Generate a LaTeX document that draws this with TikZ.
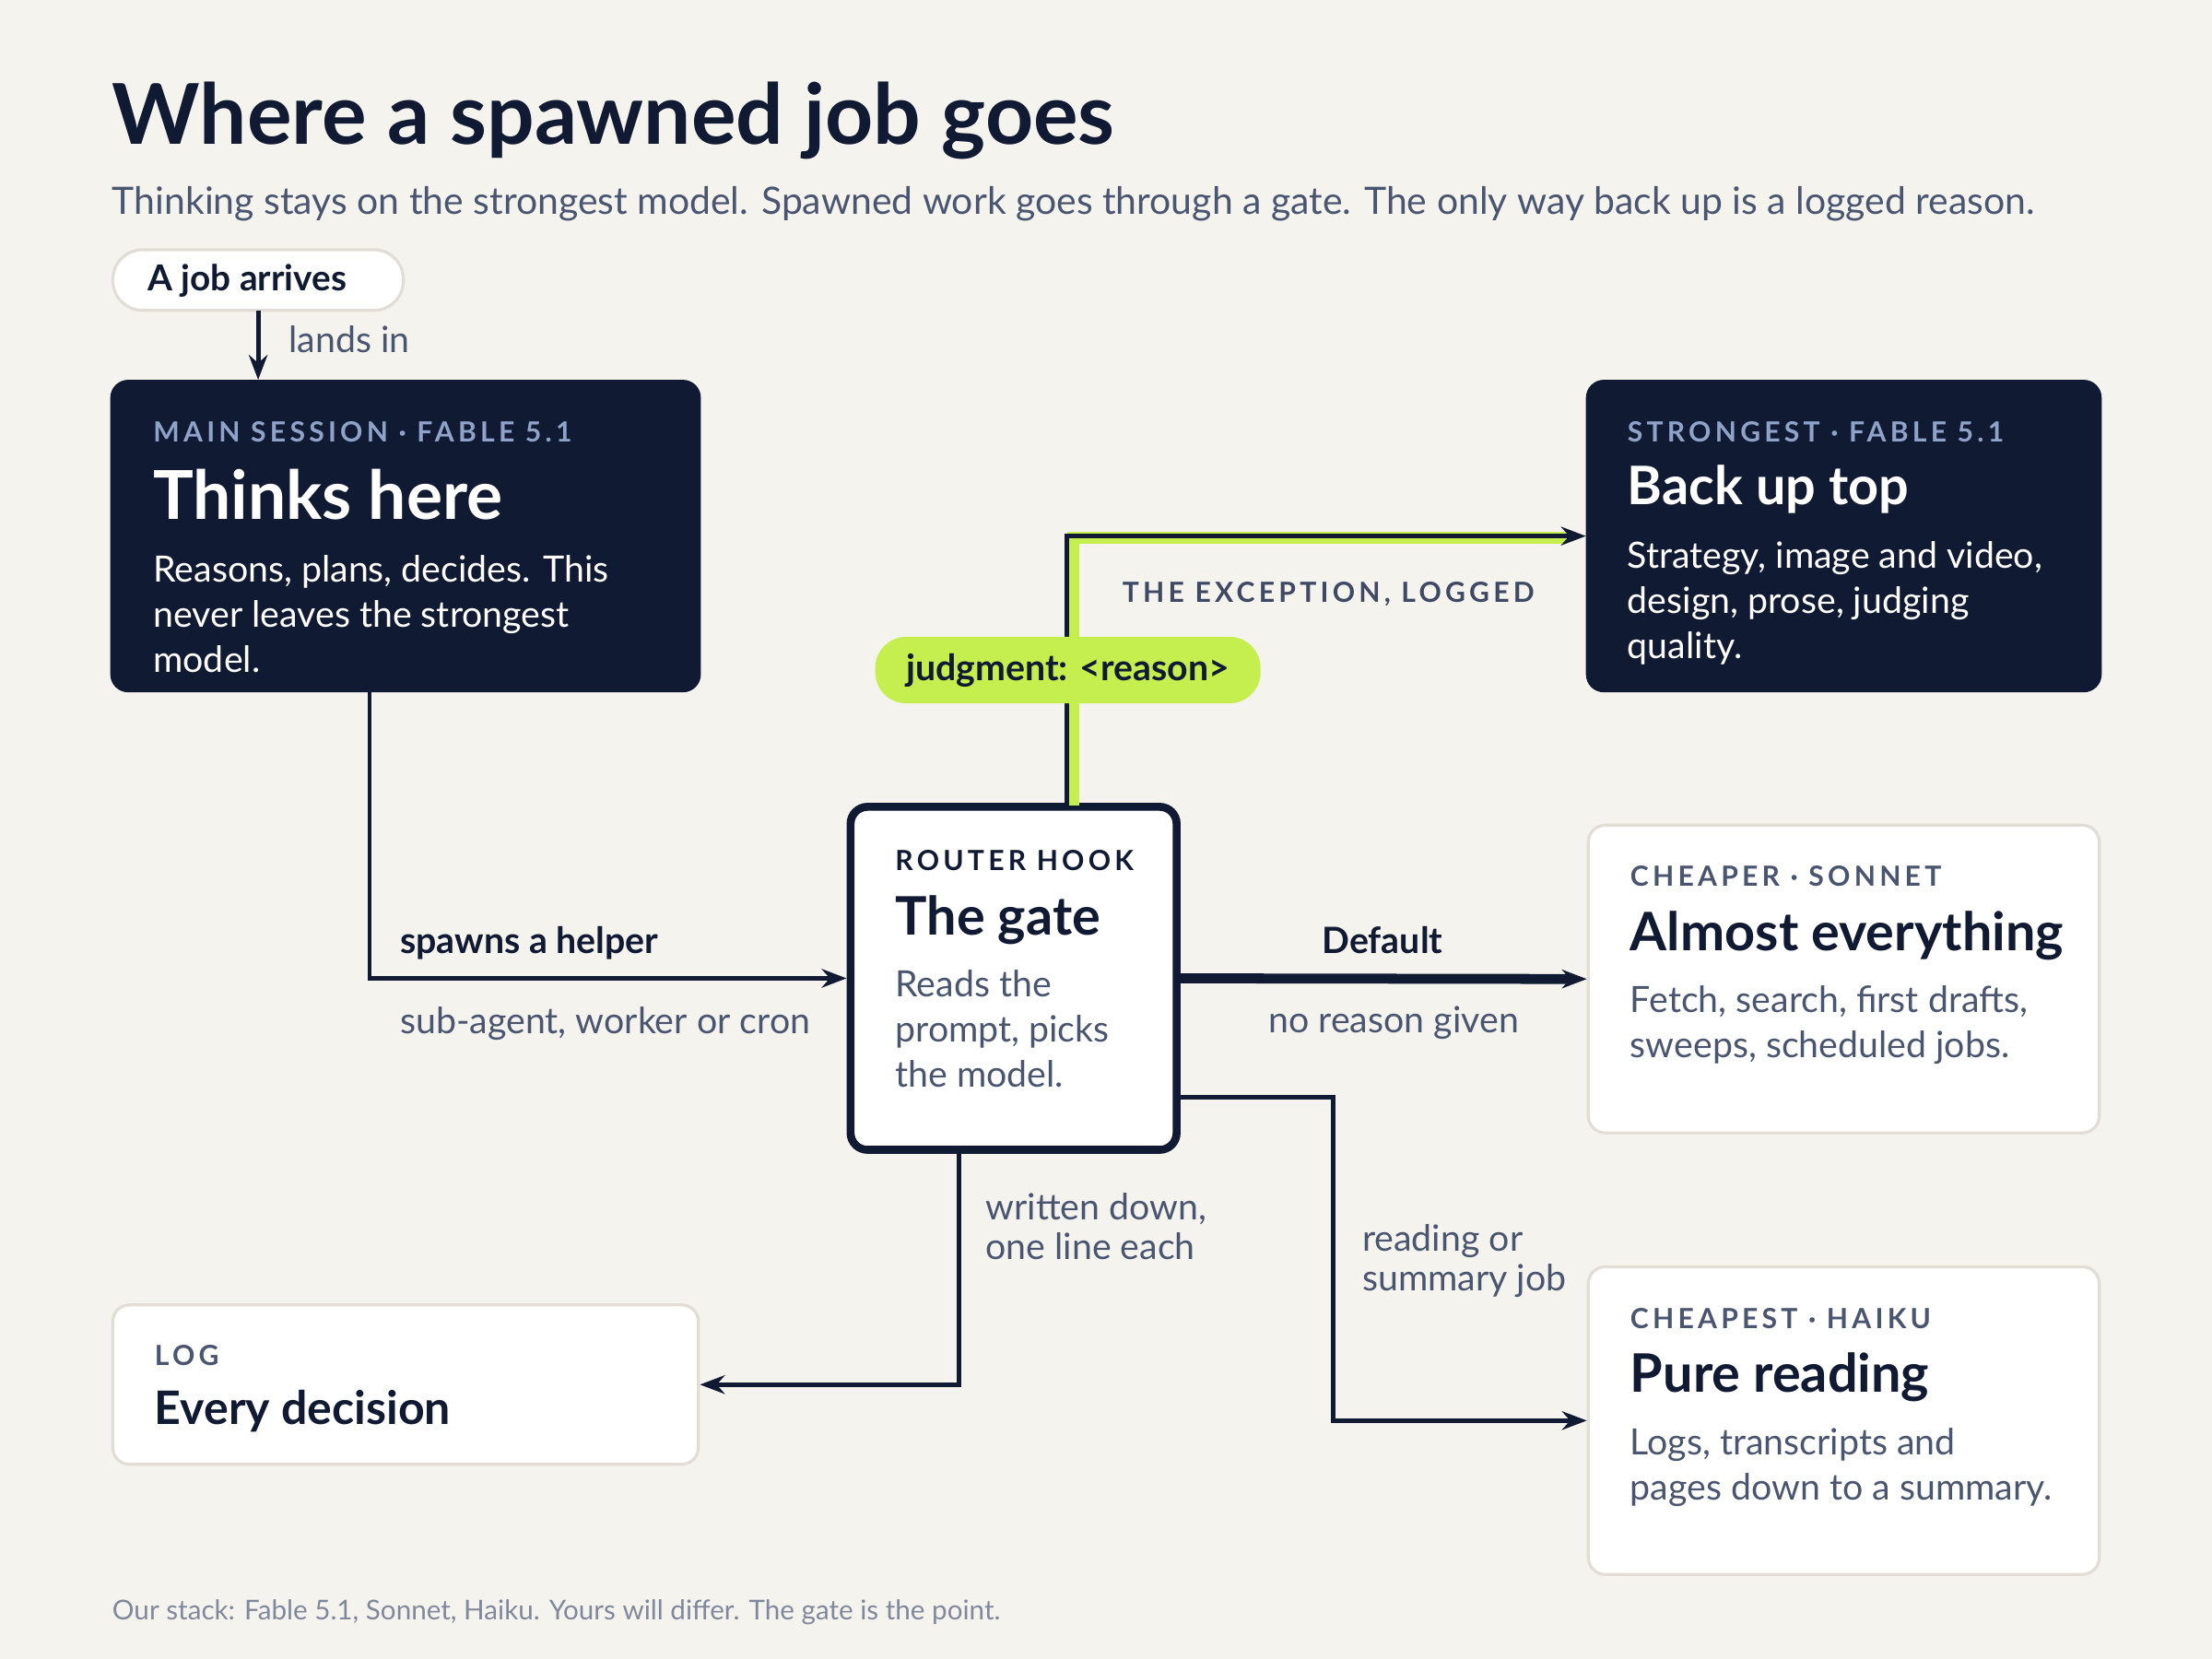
\documentclass[tikz,border=0pt]{standalone}
\usepackage{fontspec}
\setmainfont{Lato}
\usetikzlibrary{arrows.meta,positioning}
\definecolor{ink}{HTML}{111A33}
\definecolor{paper}{HTML}{F5F3EE}
\definecolor{grey}{HTML}{4A5570}
\definecolor{pale}{HTML}{8FA3C8}
\definecolor{lime}{HTML}{C5EE4F}
\definecolor{rim}{HTML}{E2DED6}
\tikzset{
  darkbox/.style = {rectangle, rounded corners=1.2mm, fill=ink, draw=ink},
  litebox/.style = {rectangle, rounded corners=1.2mm, fill=white, draw=rim, line width=0.6pt},
  tag/.style = {anchor=base west, inner sep=0pt, font=\fontsize{5.6}{6}\selectfont\bfseries\addfontfeature{LetterSpace=14}},
  head/.style = {anchor=base west, inner sep=0pt, font=\fontsize{10.7}{12}\selectfont\bfseries},
  body/.style = {anchor=north west, inner sep=0pt, align=left, font=\fontsize{7.3}{9.1}\selectfont},
  wire/.style = {draw=ink, line width=0.9pt, -{Stealth[length=5pt]}}
}
\begin{document}
\begin{tikzpicture}[x=0.01cm, y=-0.01cm]
    \fill[paper] (0,0) rectangle (1568,1176);
    \useasboundingbox (0,0) rectangle (1568,1176);

    % heading
    \node[anchor=base west, inner sep=0pt, text=ink,
          font=\fontsize{16.9}{18}\selectfont\bfseries] (title) at (79,102) {Where a spawned job goes};
    \node[anchor=base west, inner sep=0pt, text=grey,
          font=\fontsize{7.6}{8}\selectfont] (sub) at (79,152)
          {Thinking stays on the strongest model. Spawned work goes through a gate. The only way back up is a logged reason.};

    % boxes
    \draw[fill=white, draw=rim, line width=0.6pt, rounded corners=2.1mm] (80,177) rectangle (286,220);
    \coordinate (arrive) at (183,220);
    \node[anchor=base west, inner sep=0pt, text=ink, font=\fontsize{7.2}{8}\selectfont\bfseries] (arrtxt) at (104,206) {A job arrives};

    \node[darkbox, minimum width=4.17cm, minimum height=2.2cm] (main) at (287.5,380) {};
    \node[darkbox, minimum width=3.64cm, minimum height=2.2cm] (top) at (1307,380) {};
    \node[rectangle, rounded corners=1.2mm, fill=white, draw=ink, line width=1.6pt,
          minimum width=2.31cm, minimum height=2.43cm] (gate) at (718.5,693.5) {};
    \node[litebox, minimum width=3.62cm, minimum height=2.18cm] (sonnet) at (1307,694) {};
    \node[litebox, minimum width=3.62cm, minimum height=2.18cm] (haiku) at (1307,1007) {};
    \node[litebox, minimum width=4.15cm, minimum height=1.13cm] (log) at (287.5,981.5) {};

    % texts in boxes
    \node[tag, text=pale] at (108,313) {MAIN SESSION · FABLE 5.1};
    \node[head, text=white, font=\fontsize{13.6}{15}\selectfont\bfseries] at (108,368) {Thinks here};
    \node[body, text=white] at (108,393) {Reasons, plans, decides. This\\never leaves the strongest\\model.};

    \node[tag, text=pale] at (1153,313) {STRONGEST · FABLE 5.1};
    \node[head, text=white] at (1153,358) {Back up top};
    \node[body, text=white] at (1153,383) {Strategy, image and video,\\design, prose, judging\\quality.};

    \node[tag, text=ink] at (634,617) {ROUTER HOOK};
    \node[head, text=ink] at (634,663) {The gate};
    \node[body, text=grey] at (634,687) {Reads the\\prompt, picks\\the model.};

    \node[tag, text=grey] at (1155,628) {CHEAPER · SONNET};
    \node[head, text=ink] at (1155,674) {Almost everything};
    \node[body, text=grey] at (1155,698) {Fetch, search, first drafts,\\sweeps, scheduled jobs.};

    \node[tag, text=grey] at (1155,942) {CHEAPEST · HAIKU};
    \node[head, text=ink] at (1155,987) {Pure reading};
    \node[body, text=grey] at (1155,1012) {Logs, transcripts and\\pages down to a summary.};

    \node[tag, text=grey] at (109,968) {LOG};
    \node[head, text=ink, font=\fontsize{9.3}{10}\selectfont\bfseries] at (109,1010) {Every decision};

    % connectors
    \draw[wire] (arrive) -- (main.north -| arrive);
    \node[body, text=grey] at (204,230) {lands in};

    \draw[wire] (262,490) |- (gate.west);
    \node[anchor=base west, inner sep=0pt, text=ink, font=\fontsize{7.3}{8}\selectfont\bfseries] at (283,676) {spawns a helper};
    \node[body, text=grey] at (283,713) {sub-agent, worker or cron};

    \draw[wire, line width=2pt] (gate.east) -- (sonnet.west);
    \node[anchor=base, inner sep=0pt, text=ink, font=\fontsize{7.3}{8}\selectfont\bfseries] at (980,676) {Default};
    \node[anchor=base, inner sep=0pt, text=grey, font=\fontsize{7.3}{8}\selectfont] at (988,732) {no reason given};

    \draw[wire] (835,778) -| (945,1007) -- (haiku.west);
    \node[body, text=grey, font=\fontsize{7.3}{8}\selectfont] at (965,867) {reading or\\summary job};

    \draw[wire] (680,816) |- (log.east);
    \node[body, text=grey, font=\fontsize{7.3}{8}\selectfont] at (698,845) {written down,\\one line each};

    % the logged exception
    \draw[lime, line width=2.4pt] (761,571) |- (1110,381);
    \draw[wire] (756,571) |- (top.west);
    \node[rectangle, rounded corners=2.2mm, fill=lime, minimum width=2.73cm, minimum height=0.44cm,
          text=ink, font=\fontsize{7.3}{8}\selectfont\bfseries] (why) at (757,475) {judgment: <reason>};
    \node[tag, text=grey!80!ink] at (795,427) {THE EXCEPTION, LOGGED};

    % footer
    \node[anchor=base west, inner sep=0pt, text=grey!70, font=\fontsize{5.5}{6}\selectfont] (foot) at (79,1148)
          {Our stack: Fable 5.1, Sonnet, Haiku. Yours will differ. The gate is the point.};
\end{tikzpicture}
\end{document}
